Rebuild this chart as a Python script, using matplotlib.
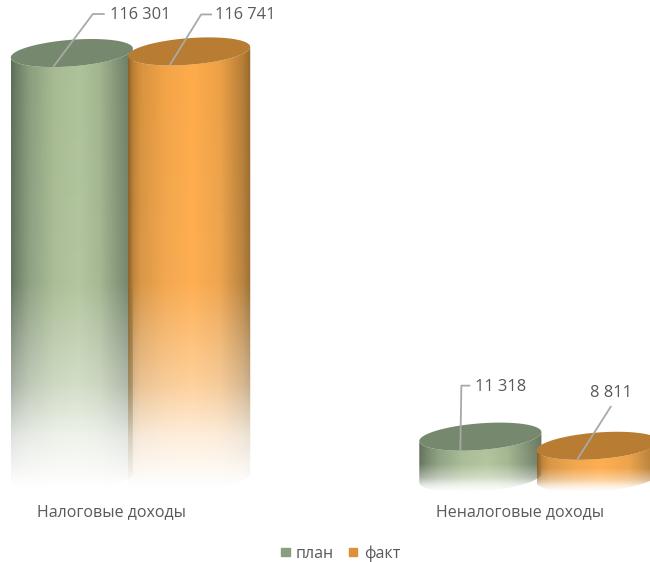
#!/usr/bin/env python3
# -*- coding: utf-8 -*-
import numpy as np
import matplotlib
matplotlib.use('Agg')
import matplotlib.pyplot as plt
from matplotlib.path import Path
from matplotlib.patches import PathPatch, Patch

categories = ['Налоговые доходы', 'Неналоговые доходы']
series_names = ['план', 'факт']
plan_values = [116301, 11318]
fact_values = [116741, 8811]
plan_labels = ['116 301', '11 318']
fact_labels = ['116 741', '8 811']

plt.rcParams['font.family'] = ['Open Sans', 'DejaVu Sans']

W, H = 650, 562
BASE_PX = 478.0          # pixel row of value 0
PX_PER_VALUE = 3.654 / 1000
CAT_PX = 408.5           # pixels between the two categories
CAT0_PX = 130.5
BAR_W = 0.299
SHIFT = 0.1436           # half the distance between bars of one category
TEXT_COL = '#595959'
LINE_COL = '#a9a9a9'

# pixel offsets of the label leaders from the centre of each bar top
leaders = {
    (0, 0): ([(-18, 13), (21, -39), (32, -39)], (38, -38)),
    (0, 1): ([(-19, 13), (12, -37), (22, -37)], (26, -36)),
    (1, 0): ([(-20, 13), (-19, -51), (-11, -51)], (-5, -50)),
    (1, 1): ([(-20, 13), (13, -39)], (-8, -53)),
}

shades = {
    0: dict(pos=[0, .04, .15, .35, .55, .72, .90, 1],
            col=['#5c6c56', '#6c7d63', '#8a9d7d', '#a6ba91', '#afc39a', '#a2b58e', '#7b8c70', '#66765f'],
            top='#76896e'),
    1: dict(pos=[0, .03, .10, .30, .52, .75, .93, 1],
            col=['#8f6126', '#b57c33', '#d8913c', '#f2a346', '#ffab49', '#eda045', '#b97f36', '#96682b'],
            top='#b87c33'),
}


def rgb(c):
    return np.array(matplotlib.colors.to_rgb(c))


def ellipse_xy(xc, value, t):
    # tilted like the perspective view of the original
    a = BAR_W / 2
    b = 13.3 / PX_PER_VALUE
    k = 4.5 / PX_PER_VALUE
    return xc + a * np.cos(t), value + b * np.sin(t) + k * np.cos(t)


def draw_cylinder(ax, xc, value, style, z):
    # body: front edge of the top ellipse down to the front edge of the bottom one
    t = np.linspace(np.pi, 2 * np.pi, 60)
    tx, ty = ellipse_xy(xc, value, t)
    bx, by = ellipse_xy(xc, 0, t[::-1])
    body = np.column_stack([np.r_[tx, bx], np.r_[ty, by]])
    patch = PathPatch(Path(np.vstack([body, body[0]])), fc='none', ec='none',
                      transform=ax.transData)
    ax.add_patch(patch)

    nx, ny = 160, 300
    u = np.linspace(0, 1, nx)
    cols = np.stack([np.interp(u, style['pos'], [rgb(c)[i] for c in style['col']]) for i in range(3)], axis=1)
    v = np.linspace(0, 1, ny)
    alpha = np.interp(v, [0, .53, .76, .875, .98, 1], [1, .95, .55, .2, .02, 0])
    img = np.ones((ny, nx, 4))
    img[:, :, :3] = cols[None, :, :]
    img[:, :, 3] = alpha[:, None]
    im = ax.imshow(img, extent=[xc - BAR_W / 2, xc + BAR_W / 2, by.min(), ty.max()], origin='upper',
                   aspect='auto', interpolation='bilinear', zorder=z)
    im.set_clip_path(patch)

    t = np.linspace(0, 2 * np.pi, 120)
    ex, ey = ellipse_xy(xc, value, t)
    ax.fill(ex, ey, color=style['top'], lw=0, zorder=z + 0.1)


fig = plt.figure(figsize=(W / 100, H / 100), dpi=100)
ax = fig.add_axes([0, 0, 1, 1])

z = 2
for i, cat in enumerate(categories):
    for s, vals in enumerate([plan_values, fact_values]):
        xc = i + (-SHIFT if s == 0 else SHIFT)
        draw_cylinder(ax, xc, vals[i], shades[s], z)
        z += 1

ax.set_xlim(-CAT0_PX / CAT_PX, (W - CAT0_PX) / CAT_PX)
ax.set_ylim(-(H - BASE_PX) / PX_PER_VALUE, BASE_PX / PX_PER_VALUE)
ax.axis('off')

for i, cat in enumerate(categories):
    for s, (vals, labels) in enumerate([(plan_values, plan_labels), (fact_values, fact_labels)]):
        xc = i + (-SHIFT if s == 0 else SHIFT)
        pts, txt = leaders[(i, s)]
        ox, oy = ax.transData.transform((xc, vals[i]))
        xs = [ox + p[0] for p in pts]
        ys = [oy - p[1] for p in pts]
        ax.plot(xs, ys, color=LINE_COL, lw=1.3, transform=None, zorder=20)
        ax.text(ox + txt[0], oy - txt[1], labels[i], transform=None, color=TEXT_COL,
                fontsize=11.8, ha='left', va='center', zorder=21)
    ax.text(i - 0.047, -34 / PX_PER_VALUE, cat, color=TEXT_COL, fontsize=11.5,
            ha='center', va='center')

handles = [Patch(color='#8a9e7f'), Patch(color='#de8f38')]
fig.legend(handles, series_names, loc='center', bbox_to_anchor=(340.5 / W, 1 - 553.5 / H), ncol=2,
           frameon=False, fontsize=11.5, labelcolor=TEXT_COL, handlelength=0.55, handleheight=0.45,
           handletextpad=0.4, columnspacing=0.9, borderpad=0)

fig.savefig('out.png', dpi=100)
